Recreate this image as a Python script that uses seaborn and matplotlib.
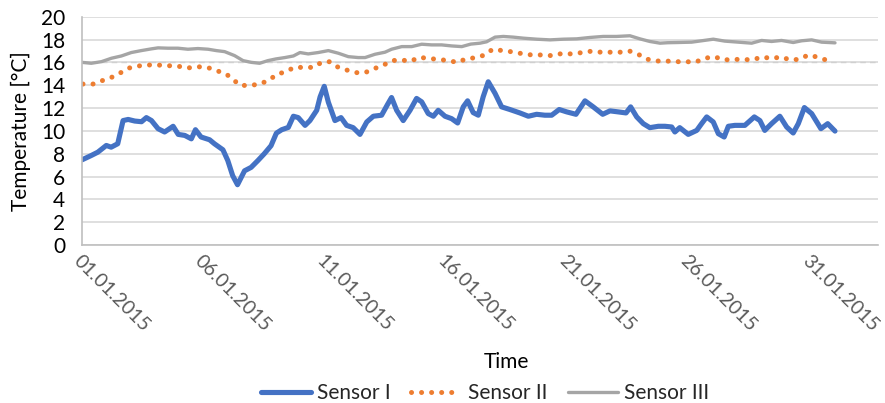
import numpy as np
import pandas as pd
import seaborn as sns
import matplotlib
matplotlib.use("Agg")
import matplotlib.pyplot as plt

# values, x given as days after 01.01.2015 00:00
sensor1_days = [0, 0.38, 0.65, 1.0, 1.2, 1.47, 1.69, 1.9, 2.17, 2.45,
                2.65, 2.86, 3.13, 3.4, 3.75, 3.96, 4.23, 4.5, 4.67, 4.9,
                5.25, 5.45, 5.8, 6.0, 6.2, 6.4, 6.69, 6.96, 7.24, 7.5,
                7.78, 8.0, 8.22, 8.49, 8.7, 8.9, 9.18, 9.38, 9.66, 9.8,
                9.97, 10.14, 10.41, 10.66, 10.89, 11.16, 11.44, 11.72, 11.99, 12.33,
                12.58, 12.74, 12.95, 13.22, 13.5, 13.77, 13.98, 14.25, 14.46, 14.66,
                14.94, 15.21, 15.46, 15.69, 15.87, 16.1, 16.31, 16.51, 16.72, 17.0,
                17.27, 17.61, 18.02, 18.37, 18.71, 19.05, 19.33, 19.64, 19.95, 20.33,
                20.7, 21.04, 21.43, 21.73, 22.07, 22.39, 22.58, 22.83, 23.1, 23.37,
                23.72, 23.99, 24.27, 24.4, 24.6, 24.95, 25.3, 25.5, 25.71, 25.98,
                26.19, 26.43, 26.6, 26.87, 27.28, 27.67, 27.9, 28.1, 28.38, 28.72,
                29.0, 29.27, 29.48, 29.73, 30.03, 30.41, 30.69, 30.99]
sensor1_vals = [7.46, 7.84, 8.13, 8.72, 8.57, 8.87, 10.9, 11.0, 10.86, 10.8,
                11.16, 10.9, 10.19, 9.9, 10.4, 9.69, 9.6, 9.3, 10.1, 9.46,
                9.22, 8.87, 8.34, 7.4, 6.08, 5.28, 6.5, 6.8, 7.4, 7.99,
                8.7, 9.8, 10.1, 10.3, 11.28, 11.16, 10.48, 10.9, 11.8, 12.98,
                13.9, 12.5, 10.9, 11.16, 10.48, 10.28, 9.69, 10.78, 11.28, 11.37,
                12.33, 12.92, 11.8, 10.9, 11.8, 12.84, 12.54, 11.51, 11.28, 11.8,
                11.28, 11.07, 10.69, 12.1, 12.63, 11.6, 11.37, 12.98, 14.3, 13.28,
                12.1, 11.87, 11.57, 11.28, 11.45, 11.37, 11.37, 11.87, 11.66, 11.45,
                12.63, 12.1, 11.45, 11.75, 11.66, 11.57, 12.1, 11.22, 10.63, 10.28,
                10.4, 10.4, 10.34, 9.9, 10.28, 9.69, 10.04, 10.63, 11.22, 10.78,
                9.75, 9.46, 10.4, 10.48, 10.48, 11.22, 10.9, 10.04, 10.63, 11.28,
                10.34, 9.81, 10.63, 12.04, 11.51, 10.19, 10.63, 9.98]

sensor2_days = [0.04, 0.45, 0.82, 1.21, 1.55, 1.89, 2.3, 2.72, 3.1, 3.51,
                3.92, 4.33, 4.74, 5.16, 5.53, 5.9, 6.21, 6.51, 6.93, 7.31,
                7.68, 8.02, 8.38, 8.74, 9.14, 9.52, 9.86, 10.2, 10.55, 10.89,
                11.28, 11.65, 12.02, 12.37, 12.74, 13.13, 13.53, 13.88, 14.28, 14.66,
                15.07, 15.46, 15.83, 16.2, 16.58, 16.9, 17.3, 17.71, 18.09, 18.5,
                18.92, 19.33, 19.74, 20.15, 20.59, 20.97, 21.35, 21.73, 22.14, 22.52,
                22.87, 23.21, 23.61, 24.04, 24.43, 24.84, 25.25, 25.64, 26.02, 26.42,
                26.8, 27.21, 27.63, 27.99, 28.38, 28.77, 29.15, 29.53, 29.89, 30.23,
                30.62]
sensor2_vals = [14.1, 14.1, 14.39, 14.68, 15.04, 15.48, 15.68, 15.77, 15.77, 15.71,
                15.68, 15.5, 15.62, 15.56, 15.27, 15.04, 14.51, 13.98, 13.98, 14.1,
                14.42, 14.95, 15.18, 15.56, 15.56, 15.56, 16.0, 16.06, 15.56, 15.33,
                15.1, 15.1, 15.45, 15.71, 16.15, 16.21, 16.1, 16.45, 16.33, 16.27,
                16.15, 16.0, 16.33, 16.4, 16.65, 17.15, 17.03, 16.92, 16.77, 16.65,
                16.65, 16.59, 16.77, 16.74, 16.86, 16.98, 16.89, 16.89, 16.89, 17.0,
                16.74, 16.3, 16.12, 16.12, 16.06, 16.06, 16.03, 16.36, 16.5, 16.21,
                16.27, 16.24, 16.24, 16.48, 16.33, 16.48, 16.21, 16.27, 16.65, 16.48,
                16.21]

sensor3_days = [0, 0.38, 0.8, 1.21, 1.62, 2.03, 2.44, 2.85, 3.13, 3.54,
                3.95, 4.36, 4.77, 5.19, 5.53, 5.87, 6.28, 6.63, 6.97, 7.31,
                7.65, 7.98, 8.35, 8.7, 8.97, 9.31, 9.72, 10.14, 10.55, 10.96,
                11.37, 11.65, 12.06, 12.47, 12.74, 13.16, 13.57, 13.98, 14.39, 14.8,
                15.21, 15.63, 16.0, 16.38, 16.65, 17.0, 17.34, 17.75, 18.16, 18.71,
                19.26, 19.81, 20.36, 20.9, 21.45, 22.0, 22.55, 22.96, 23.37, 23.79,
                24.1, 24.54, 25.09, 25.5, 25.98, 26.46, 27.01, 27.56, 27.97, 28.38,
                28.79, 29.27, 29.62, 30.03, 30.44, 30.99]
sensor3_vals = [16.0, 15.92, 16.06, 16.36, 16.56, 16.86, 17.03, 17.18, 17.27, 17.24,
                17.24, 17.15, 17.21, 17.15, 17.03, 16.94, 16.59, 16.15, 16.0, 15.92,
                16.15, 16.3, 16.42, 16.56, 16.86, 16.74, 16.86, 17.03, 16.8, 16.5,
                16.42, 16.42, 16.71, 16.89, 17.15, 17.38, 17.38, 17.59, 17.53, 17.53,
                17.44, 17.38, 17.6, 17.68, 17.8, 18.21, 18.27, 18.21, 18.12, 18.03,
                17.97, 18.03, 18.06, 18.18, 18.27, 18.27, 18.33, 18.06, 17.83, 17.68,
                17.72, 17.74, 17.77, 17.89, 18.03, 17.86, 17.77, 17.68, 17.92, 17.83,
                17.92, 17.74, 17.89, 17.97, 17.77, 17.71]

tick_labels = ["01.01.2015", "06.01.2015", "11.01.2015", "16.01.2015",
               "21.01.2015", "26.01.2015", "31.01.2015"]
reference_level = 16

start = pd.Timestamp("2015-01-01")


def to_time(days):
    return start + pd.to_timedelta(np.array(days), unit="D")


sns.set_theme(style="white")
plt.rcParams["font.family"] = ["Lato", "DejaVu Sans"]

fig = plt.figure(figsize=(8.85, 4.03), dpi=100)
ax = fig.add_axes([82 / 885, 1 - 245 / 403, 796 / 885, 228.3 / 403])

ax.set_ylim(0, 20)
ax.set_yticks(range(0, 21, 2))
ax.yaxis.grid(True, color="#D9D9D9", linewidth=1.2)
ax.set_axisbelow(True)
ax.axhline(reference_level, color="#D0D0D0", linewidth=1.0, linestyle=(0, (4, 3)), zorder=1)

sns.lineplot(x=to_time(sensor1_days), y=sensor1_vals, ax=ax, color="#4472C4",
             linewidth=3.7, label="Sensor I", solid_capstyle="round", solid_joinstyle="round")
sns.lineplot(x=to_time(sensor2_days), y=sensor2_vals, ax=ax, color="#ED7D31",
             linewidth=3.6, linestyle=(0, (0.01, 2.0)), dash_capstyle="round", label="Sensor II")
sns.lineplot(x=to_time(sensor3_days), y=sensor3_vals, ax=ax, color="#A5A5A5",
             linewidth=2.4, label="Sensor III", solid_capstyle="round", solid_joinstyle="round")

ax.set_xlim(start, start + pd.Timedelta(days=32.76))
ticks = pd.to_datetime(tick_labels, format="%d.%m.%Y")
ax.set_xticks(ticks)
ax.set_xticklabels(tick_labels, rotation=-45, ha="left", va="top",
                   rotation_mode="anchor", color="#595959", fontsize=14)
ax.tick_params(axis="x", length=0, pad=5)
ax.tick_params(axis="y", length=0, pad=12, labelsize=15, labelcolor="#000000")

for side in ["top", "right"]:
    ax.spines[side].set_visible(False)
ax.spines["left"].set_color("#BFBFBF")
ax.spines["bottom"].set_color("#BFBFBF")
ax.spines["left"].set_linewidth(1.2)
ax.spines["bottom"].set_linewidth(1.2)

ax.set_ylabel("Temperature [°C]", fontsize=15, color="#000000")
ax.yaxis.set_label_coords(-0.064, 0.5)
ax.set_xlabel("Time", fontsize=15, color="#000000")
ax.xaxis.label.set_verticalalignment("center")
ax.xaxis.set_label_coords((506 - 82) / 796, (245 - 362) / 228.3)

handles, labels = ax.get_legend_handles_labels()
ax.get_legend().remove()
fig.legend(handles, labels, loc="center", bbox_to_anchor=(485 / 885, 1 - 393 / 403),
           ncol=3, frameon=False, fontsize=15, handlelength=2.4, columnspacing=1.0,
           handletextpad=0.3, borderpad=0.0)

fig.savefig("out.png", dpi=100)
